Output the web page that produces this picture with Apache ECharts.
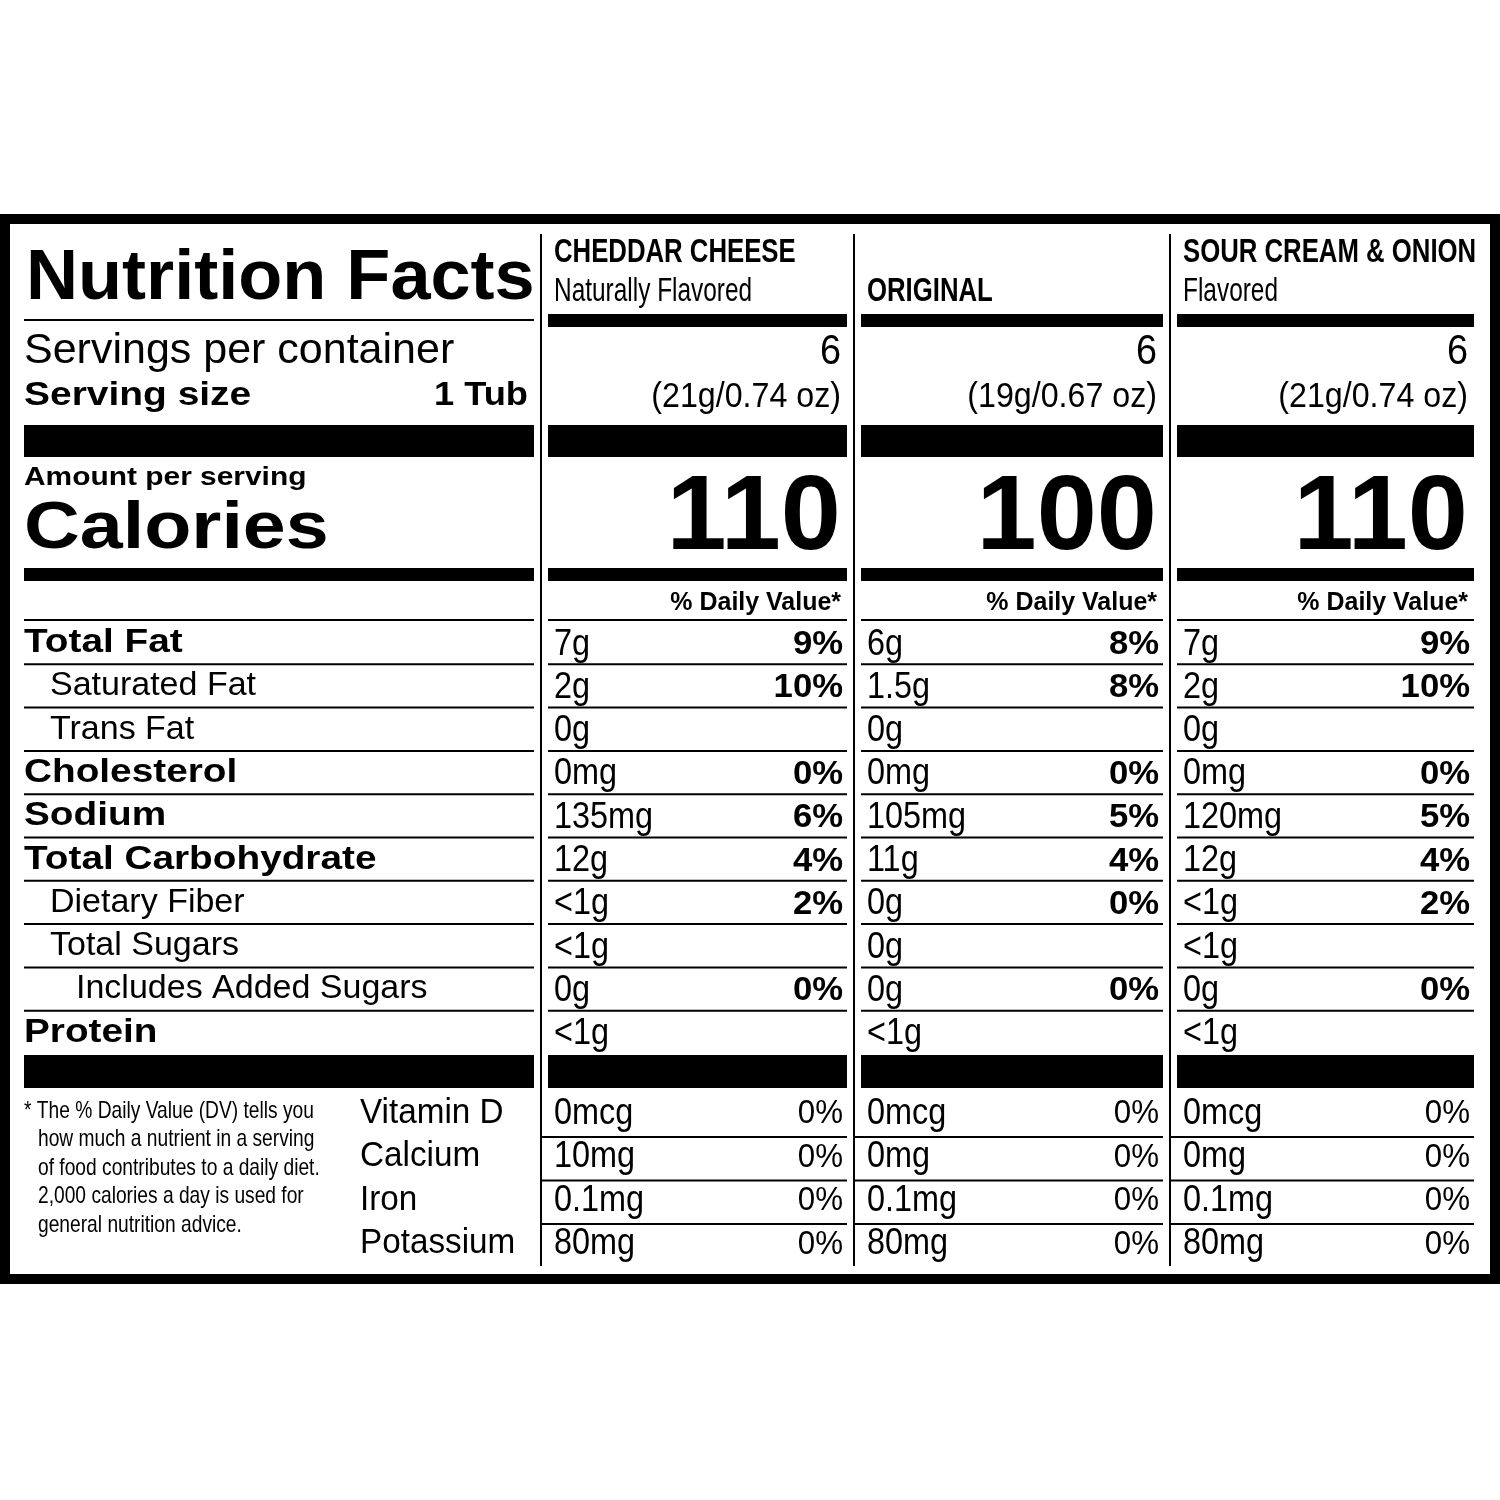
<!DOCTYPE html>
<html><head><meta charset="utf-8">
<script src="https://cdn.jsdelivr.net/npm/echarts@6/dist/echarts.min.js"></script>
<style>html,body{margin:0;padding:0;background:#fff}#c{width:1500px;height:1500px}</style>
</head><body><div id="c"></div>
<script>
const flavorNames = ["CHEDDAR CHEESE", "ORIGINAL", "SOUR CREAM & ONION"];
const flavorSubs = ["Naturally Flavored", "", "Flavored"];
const servingsPerContainer = ["6", "6", "6"];
const servingSizes = ["(21g/0.74 oz)", "(19g/0.67 oz)", "(21g/0.74 oz)"];
const calories = ["110", "100", "110"];
const nutrientNames = ["Total Fat","Saturated Fat","Trans Fat","Cholesterol","Sodium","Total Carbohydrate","Dietary Fiber","Total Sugars","Includes Added Sugars","Protein"];
const nutrientBold = [1,0,0,1,1,1,0,0,0,1];
const nutrientIndent = [0,1,1,0,0,0,1,1,2,0];
const amountsCheddar = ["7g","2g","0g","0mg","135mg","12g","<1g","<1g","0g","<1g"];
const dvCheddar = ["9%","10%","","0%","6%","4%","2%","","0%",""];
const amountsOriginal = ["6g","1.5g","0g","0mg","105mg","11g","0g","0g","0g","<1g"];
const dvOriginal = ["8%","8%","","0%","5%","4%","0%","","0%",""];
const amountsSour = ["7g","2g","0g","0mg","120mg","12g","<1g","<1g","0g","<1g"];
const dvSour = ["9%","10%","","0%","5%","4%","2%","","0%",""];
const vitaminNames = ["Vitamin D","Calcium","Iron","Potassium"];
const vitCheddar = ["0mcg","10mg","0.1mg","80mg"];
const vitOriginal = ["0mcg","0mg","0.1mg","80mg"];
const vitSour = ["0mcg","0mg","0.1mg","80mg"];
const vitDv = ["0%","0%","0%","0%"];
const footnote = ["* The % Daily Value (DV) tells you","how much a nutrient in a serving","of food contributes to a daily diet.","2,000 calories a day is used for","general nutrition advice."];

const amounts=[amountsCheddar,amountsOriginal,amountsSour];
const dvs=[dvCheddar,dvOriginal,dvSour];
const vits=[vitCheddar,vitOriginal,vitSour];

const F="'Liberation Sans', Arial, sans-serif";
const g=[];
function rect(x,y,w,h){g.push({type:'rect',shape:{x,y,width:w,height:h},style:{fill:'#000'},silent:true});}
function txt(t,x,y,size,opt){opt=opt||{};g.push({type:'text',x,y,scaleX:opt.s||1,silent:true,style:{text:t,fill:'#000',fontSize:size,fontFamily:F,fontWeight:opt.w||'normal',align:opt.a||'left',verticalAlign:'middle'}});}

rect(0,214,1500,10); rect(0,1274,1500,10); rect(0,214,10,1070); rect(1490,214,10,1070);
const cols=[[548,847],[861,1163],[1177,1474]];
const L=[24,534];
[541,854,1170].forEach(x=>rect(x-1,234,2,1032));
txt("Nutrition Facts",26,280,70,{w:900,s:1.03});
rect(L[0],319,L[1]-L[0],2);
txt("Servings per container",24,351,43);
txt("Serving size",24,396,33,{w:900,s:1.18});
txt("1 Tub",528,396,33,{w:900,a:'right',s:1.1});
const allPanels=[L].concat(cols);
allPanels.forEach(p=>{rect(p[0],425,p[1]-p[0],32);rect(p[0],568,p[1]-p[0],13);rect(p[0],1055,p[1]-p[0],33);rect(p[0],619,p[1]-p[0],2);});
txt("Amount per serving",24,478,26,{w:900,s:1.15});
txt("Calories",24,530,66,{w:900,s:1.17});
const rowTop=621,rowH=43.3;
nutrientNames.forEach((n,i)=>{
  const cy=rowTop+rowH*(i+0.5);
  txt(n,24+nutrientIndent[i]*26,cy,34,{w:nutrientBold[i]?900:'normal',s:nutrientBold[i]?1.14:1});
  if(i<nutrientNames.length-1) allPanels.forEach(p=>rect(p[0],rowTop+rowH*(i+1)-1,p[1]-p[0],2));
});
cols.forEach((c,k)=>{
  txt(flavorNames[k],c[0]+6,flavorSubs[k]?253:292,33,{w:'bold',s:0.78});
  if(flavorSubs[k]) txt(flavorSubs[k],c[0]+6,292,33,{s:0.74});
  rect(c[0],314,c[1]-c[0],13);
  txt(servingsPerContainer[k],c[1]-6,352,42,{a:'right',s:0.9});
  txt(servingSizes[k],c[1]-6,397,35,{a:'right',s:0.92});
  txt(calories[k],c[1]-6,520,106,{w:900,a:'right',s:1.02});
  txt("% Daily Value*",c[1]-6,603,26,{w:'bold',a:'right',s:0.96});
  amounts[k].forEach((a,i)=>{
    const cy=rowTop+rowH*(i+0.5)+2;
    txt(a,c[0]+6,cy,36,{s:0.9});
    if(dvs[k][i]) txt(dvs[k][i],c[1]-4,cy,34,{w:900,a:'right',s:1.02});
  });
  vits[k].forEach((v,i)=>{
    const cy=1114+43.5*i;
    txt(v,c[0]+6,cy,36,{s:0.9});
    txt(vitDv[i],c[1]-4,cy,34,{a:'right',s:0.92});
    if(i<3) rect(c[0]-7,1136+43.5*i,c[1]-c[0]+7,2);
  });
});
vitaminNames.forEach((v,i)=>txt(v,360,1113+43.5*i,35,{s:0.95}));
footnote.forEach((t,i)=>txt(t,i?38:24,1111+28.5*i,24,{s:0.8}));

const chart=echarts.init(document.getElementById('c'),null,{renderer:'canvas'});
chart.setOption({animation:false,backgroundColor:'#fff',graphic:g});
</script></body></html>
